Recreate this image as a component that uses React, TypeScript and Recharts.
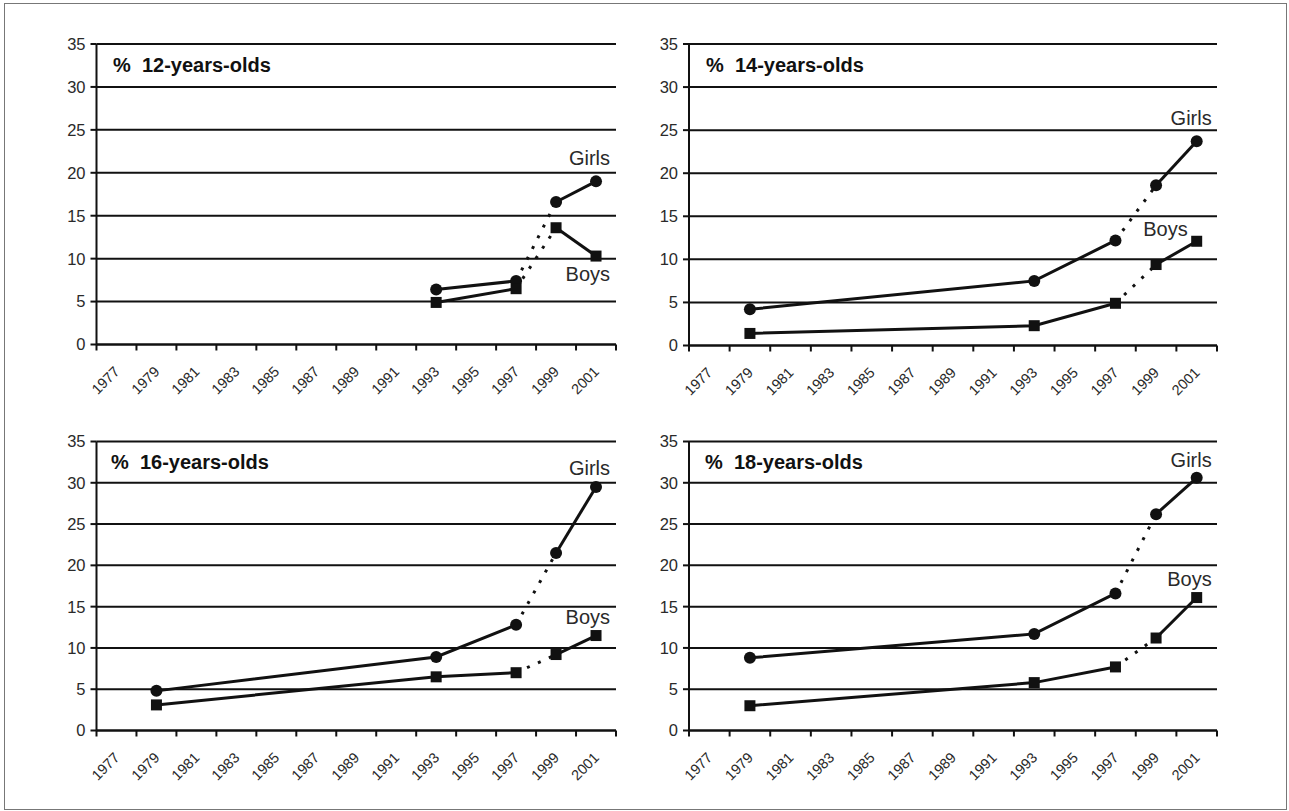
import React from 'react';
import { LineChart, Line, XAxis, YAxis, CartesianGrid, ReferenceDot } from 'recharts';

// ---- data ----
const surveyYears = [1979, 1993, 1997, 1999, 2001];
const yearLabels = [1977, 1979, 1981, 1983, 1985, 1987, 1989, 1991, 1993, 1995, 1997, 1999, 2001];
const yTicks = [0, 5, 10, 15, 20, 25, 30, 35];

const girls12 = [null, 6.4, 7.4, 16.6, 19.0];
const boys12 = [null, 4.9, 6.5, 13.6, 10.3];
const girls14 = [4.2, 7.5, 12.2, 18.6, 23.7];
const boys14 = [1.4, 2.3, 4.9, 9.4, 12.1];
const girls16 = [4.8, 8.9, 12.8, 21.5, 29.5];
const boys16 = [3.1, 6.5, 7.0, 9.2, 11.5];
const girls18 = [8.8, 11.7, 16.6, 26.2, 30.6];
const boys18 = [3.0, 5.8, 7.7, 11.2, 16.1];

const titles = ['%  12-years-olds', '%  14-years-olds', '%  16-years-olds', '%  18-years-olds'];

const FONT = "'Liberation Sans', Arial, sans-serif";
const INK = '#111';
const TEXT = '#2a2a2a';

function buildRows(girls: (number | null)[], boys: (number | null)[]) {
  return surveyYears.map((year, i) => ({
    year,
    gA: year <= 1997 ? girls[i] : null,
    gB: year >= 1997 && year <= 1999 ? girls[i] : null,
    gC: year >= 1999 ? girls[i] : null,
    bA: year <= 1997 ? boys[i] : null,
    bB: year >= 1997 && year <= 1999 ? boys[i] : null,
    bC: year >= 1999 ? boys[i] : null,
  }));
}

const tickPositions: number[] = [];
yearLabels.forEach((y) => {
  tickPositions.push(y - 1);
  tickPositions.push(y);
});
tickPositions.push(yearLabels[yearLabels.length - 1] + 1);

const YearTick = (props: any) => {
  const { x, y, payload } = props;
  const v = payload.value as number;
  if (!yearLabels.includes(v)) {
    return <line x1={x} y1={y} x2={x} y2={y + 6} stroke={INK} strokeWidth={2} />;
  }
  const ax = x + 4;
  const ay = y + 28;
  return (
    <text
      x={ax}
      y={ay}
      transform={`rotate(-45, ${ax}, ${ay})`}
      textAnchor="end"
      fontSize={14.5}
      fontFamily={FONT}
      fill={TEXT}
    >
      {v}
    </text>
  );
};

const circleDot = (p: any) => {
  if (p.cx == null || p.cy == null || p.value == null) return <g key={`c-${p.index}`} />;
  return <circle key={`c-${p.index}`} cx={p.cx} cy={p.cy} r={6} fill={INK} />;
};
const squareDot = (p: any) => {
  if (p.cx == null || p.cy == null || p.value == null) return <g key={`s-${p.index}`} />;
  return <rect key={`s-${p.index}`} x={p.cx - 5.5} y={p.cy - 5.5} width={11} height={11} fill={INK} />;
};

const sideLabel = (text: string, dx: number) => (p: any) => {
  const vb = p.viewBox || {};
  return (
    <text x={vb.x + dx} y={vb.y} textAnchor="end" fontSize={20} fontFamily={FONT} fill={TEXT}>
      {text}
    </text>
  );
};

type PanelProps = {
  girls: (number | null)[];
  boys: (number | null)[];
  left: number;
  top: number;
  width: number;
  height: number;
  margin: { top: number; right: number; bottom: number; left: number };
  girlsLabel: { y: number; dx: number };
  boysLabel: { y: number; dx: number };
};

function Panel(props: PanelProps) {
  const rows = buildRows(props.girls, props.boys);
  const lineCommon = { stroke: INK, strokeWidth: 3, isAnimationActive: false, type: 'linear' as const };
  return (
    <div style={{ position: 'absolute', left: props.left, top: props.top }}>
      <LineChart width={props.width} height={props.height} data={rows} margin={props.margin}>
        <CartesianGrid vertical={false} stroke={INK} strokeWidth={2} horizontalValues={yTicks} />
        <XAxis
          dataKey="year"
          type="number"
          domain={[1976, 2002]}
          ticks={tickPositions}
          interval={0}
          tickSize={0}
          tickMargin={0}
          tickLine={false}
          axisLine={{ stroke: INK, strokeWidth: 2 }}
          tick={<YearTick />}
          height={50}
        />
        <YAxis
          domain={[0, 35]}
          ticks={yTicks}
          interval={0}
          width={40}
          tickSize={6}
          tickMargin={5}
          tickLine={{ stroke: INK, strokeWidth: 2 }}
          axisLine={{ stroke: INK, strokeWidth: 2 }}
          tick={{ fontSize: 16.5, fill: TEXT, fontFamily: FONT }}
        />
        <YAxis
          yAxisId="right"
          orientation="right"
          domain={[0, 35]}
          width={0}
          tick={false}
          tickLine={false}
          axisLine={{ stroke: INK, strokeWidth: 2 }}
        />
        <Line {...lineCommon} dataKey="gA" dot={circleDot} activeDot={false} />
        <Line {...lineCommon} dataKey="gB" dot={false} activeDot={false} strokeDasharray="3 9" />
        <Line {...lineCommon} dataKey="gC" dot={circleDot} activeDot={false} />
        <Line {...lineCommon} dataKey="bA" dot={squareDot} activeDot={false} />
        <Line {...lineCommon} dataKey="bB" dot={false} activeDot={false} strokeDasharray="3 9" />
        <Line {...lineCommon} dataKey="bC" dot={squareDot} activeDot={false} />
        <ReferenceDot
          x={2001}
          y={props.girlsLabel.y}
          r={0}
          fill="none"
          stroke="none"
          label={sideLabel('Girls', props.girlsLabel.dx)}
        />
        <ReferenceDot
          x={2001}
          y={props.boysLabel.y}
          r={0}
          fill="none"
          stroke="none"
          label={sideLabel('Boys', props.boysLabel.dx)}
        />
      </LineChart>
    </div>
  );
}

const titlePos = [
  { x: 113, y: 72 },
  { x: 706, y: 72 },
  { x: 111, y: 469 },
  { x: 705, y: 469 },
];

export default function App() {
  return (
    <div style={{ position: 'absolute', left: 0, top: 0, width: 1289, height: 811, background: '#fff' }}>
      <Panel
        girls={girls12}
        boys={boys12}
        left={0}
        top={0}
        width={640}
        height={400}
        margin={{ top: 44, right: 24, left: 56.5, bottom: 5.5 }}
        girlsLabel={{ y: 20.9, dx: 14 }}
        boysLabel={{ y: 7.4, dx: 14 }}
      />
      <Panel
        girls={girls14}
        boys={boys14}
        left={640}
        top={0}
        width={649}
        height={400}
        margin={{ top: 44, right: 72, left: 9, bottom: 4.5 }}
        girlsLabel={{ y: 25.6, dx: 15 }}
        boysLabel={{ y: 12.7, dx: -9 }}
      />
      <Panel
        girls={girls16}
        boys={boys16}
        left={0}
        top={400}
        width={640}
        height={411}
        margin={{ top: 41.5, right: 24, left: 56.5, bottom: 30.5 }}
        girlsLabel={{ y: 30.9, dx: 14 }}
        boysLabel={{ y: 12.9, dx: 14 }}
      />
      <Panel
        girls={girls18}
        boys={boys18}
        left={640}
        top={400}
        width={649}
        height={411}
        margin={{ top: 41.5, right: 72, left: 9, bottom: 30.5 }}
        girlsLabel={{ y: 31.9, dx: 15 }}
        boysLabel={{ y: 17.5, dx: 15 }}
      />
      <svg
        width={1289}
        height={811}
        style={{ position: 'absolute', left: 0, top: 0, pointerEvents: 'none' }}
      >
        <rect x={4.5} y={3.5} width={1282} height={806} fill="none" stroke="#777" strokeWidth={1} />
        {titles.map((t, i) => (
          <text
            key={t}
            x={titlePos[i].x}
            y={titlePos[i].y}
            fontSize={20}
            fontWeight="bold"
            fontFamily={FONT}
            fill={INK}
            style={{ whiteSpace: 'pre' }}
          >
            {t}
          </text>
        ))}
      </svg>
    </div>
  );
}
